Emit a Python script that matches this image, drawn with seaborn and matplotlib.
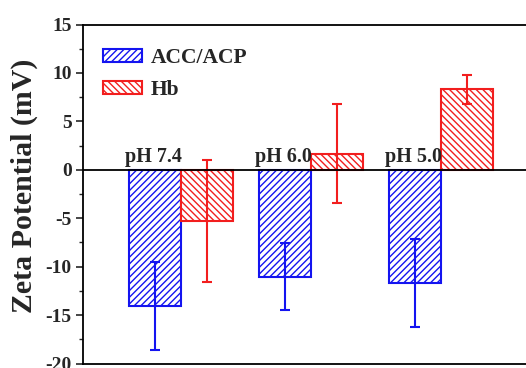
import matplotlib
matplotlib.use("Agg")
import matplotlib.pyplot as plt
import matplotlib.patches as mpatches
from matplotlib.ticker import MultipleLocator
import pandas as pd
import seaborn as sns

# Zeta potential of ACC/ACP carriers and haemoglobin at three pH values
conditions = ["pH 7.4", "pH 6.0", "pH 5.0"]
series = ["ACC/ACP", "Hb"]
acc_acp = [-14.1, -11.05, -11.7]
acc_acp_err = [4.55, 3.45, 4.55]
hb = [-5.3, 1.65, 8.3]
hb_err = [6.3, 5.1, 1.5]
yticks = [-20, -15, -10, -5, 0, 5, 10, 15]

colors = {"ACC/ACP": "#1414f0", "Hb": "#f21e1e"}
hatches = {"ACC/ACP": "/////", "Hb": "\\\\\\\\\\"}

sns.set_style("ticks")
plt.rcParams["font.family"] = ["Liberation Serif", "DejaVu Serif"]
plt.rcParams["font.weight"] = "bold"
plt.rcParams["hatch.linewidth"] = 1.0
plt.rcParams["axes.unicode_minus"] = False

df = pd.DataFrame({
    "condition": conditions * 2,
    "series": [series[0]] * 3 + [series[1]] * 3,
    "zeta": acc_acp + hb,
    "err": acc_acp_err + hb_err,
})

W, H = 526, 368
fig = plt.figure(figsize=(W / 100, H / 100), dpi=100)
ax = fig.add_axes([82.7 / W, 1 - 363.5 / H, (W - 82.7) / W, (363.5 - 24.5) / H])

sns.barplot(data=df, x="condition", y="zeta", hue="series", order=conditions,
            hue_order=series, palette=colors, width=0.8, errorbar=None,
            legend=False, ax=ax)

# white bars with coloured hatching, plus error bars at each bar centre
for name, cont in zip(series, ax.containers):
    sub = df[df["series"] == name].set_index("condition").loc[conditions]
    xs = []
    for patch in cont.patches:
        patch.set_facecolor("white")
        patch.set_edgecolor(colors[name])
        patch.set_hatch(hatches[name])
        patch.set_linewidth(1.5)
        xs.append(patch.get_x() + patch.get_width() / 2)
    ax.errorbar(xs, sub["zeta"].values, yerr=sub["err"].values, fmt="none",
                ecolor=colors[name], elinewidth=1.5, capsize=3.3,
                capthick=1.5, zorder=4)

ax.axhline(0, color="black", lw=1.3, zorder=5)

for i, cond in enumerate(conditions):
    ax.text(i + 0.01, 0.8, cond, ha="right", va="baseline", fontsize=14.5,
            fontweight="bold", zorder=6)

ax.set_xlim(-0.753, 2.652)
ax.set_ylim(-20, 15)
ax.set_xticks([])
ax.set_xlabel("")
ax.set_yticks(yticks)
ax.yaxis.set_minor_locator(MultipleLocator(2.5))
ax.tick_params(axis="y", which="major", direction="out", length=5, width=1.2,
               labelsize=14, pad=3)
ax.tick_params(axis="y", which="minor", direction="out", length=3, width=1.0)
for lab in ax.get_yticklabels():
    lab.set_fontweight("bold")

ax.set_ylabel("Zeta Potential (mV)", fontsize=21.5, fontweight="bold")
ax.yaxis.set_label_coords(-0.101, 0.524)

ax.spines["right"].set_visible(False)
for s in ("left", "top", "bottom"):
    ax.spines[s].set_linewidth(1.3)
    ax.spines[s].set_color("black")

handles = [mpatches.Patch(facecolor="white", edgecolor=colors[n],
                          hatch=hatches[n], linewidth=1.5, label=n)
           for n in series]
ax.legend(handles=handles, loc="upper left", bbox_to_anchor=(0.046, 0.93),
          frameon=False, handlelength=1.8, handleheight=0.6,
          handletextpad=0.4, labelspacing=0.55, borderpad=0,
          borderaxespad=0, prop={"weight": "bold", "size": 15.5})

fig.savefig("out.png", dpi=100)
